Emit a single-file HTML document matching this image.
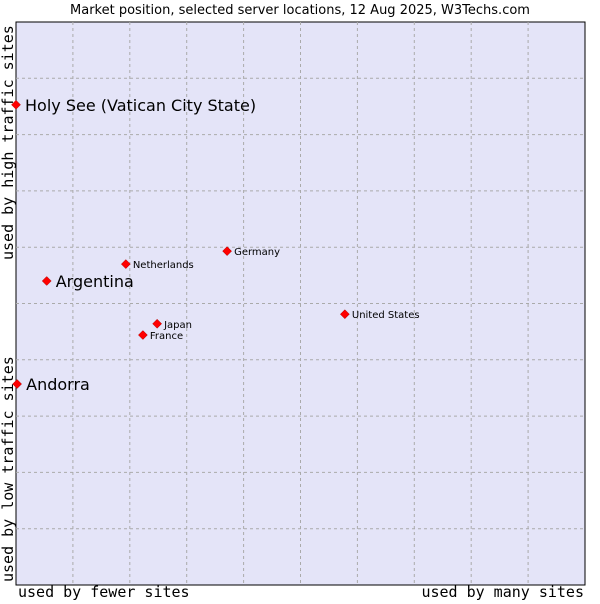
<!DOCTYPE html>
<html><head><meta charset="utf-8"><style>
body{margin:0;background:#fff;font-family:"DejaVu Sans","Liberation Sans",sans-serif;}
svg text{font-family:"DejaVu Sans","Liberation Sans",sans-serif;}
svg text.mono{font-family:"DejaVu Sans Mono","Liberation Mono",monospace;}
</style></head><body>
<svg id="chart" width="600" height="600" xmlns="http://www.w3.org/2000/svg">
<text x="300" y="14" font-size="13" text-anchor="middle" fill="#000">Market position, selected server locations, 12 Aug 2025, W3Techs.com</text>
<rect x="16" y="22" width="569" height="563" fill="#e4e4f8" stroke="#000" stroke-width="1"/>
<g id="grid"></g>
<g id="points"></g>
<text class="mono" x="18" y="597" font-size="15">used by fewer sites</text>
<text class="mono" x="584" y="597" font-size="15" text-anchor="end">used by many sites</text>
<text class="mono" transform="translate(13,260) rotate(-90)" font-size="15">used by high traffic sites</text>
<text class="mono" transform="translate(13,582) rotate(-90)" font-size="15">used by low traffic sites</text>
</svg>
<script>
const names=["Holy See (Vatican City State)","Argentina","Andorra","Netherlands","Germany","United States","Japan","France"];
const xVals=[0,5.4,0.2,19.3,37.1,57.8,24.8,22.3];
const yVals=[85.3,54.0,35.7,57.0,59.3,48.1,46.4,44.4];
const big=[true,true,true,false,false,false,false,false];
const L=16,T=22,W=569,H=563;
const sx=v=>L+v/100*W, sy=v=>T+H-v/100*H;
const ns="http://www.w3.org/2000/svg";
const g=document.getElementById('grid'),p=document.getElementById('points');
for(let i=1;i<10;i++){
 const a=document.createElementNS(ns,'line');
 
 
 a.setAttribute('x1',sx(i*10));a.setAttribute('x2',sx(i*10));a.setAttribute('y1',T);a.setAttribute('y2',T+H);
 a.setAttribute('stroke','#aaa');a.setAttribute('stroke-dasharray','3,3');g.appendChild(a);
 const b=document.createElementNS(ns,'line');
 
 
 b.setAttribute('y1',sy(i*10));b.setAttribute('y2',sy(i*10));b.setAttribute('x1',L);b.setAttribute('x2',L+W);
 b.setAttribute('stroke','#aaa');b.setAttribute('stroke-dasharray','3,3');g.appendChild(b);
}
names.forEach((n,i)=>{
 const x=sx(xVals[i]),y=sy(yVals[i]);
 const d=document.createElementNS(ns,'path');
 
 
 d.setAttribute('d',`M${x} ${y-4.5}L${x+4.5} ${y}L${x} ${y+4.5}L${x-4.5} ${y}Z`);
 d.setAttribute('fill','#f00');d.setAttribute('stroke','#a00');d.setAttribute('stroke-width','0.5');p.appendChild(d);
 const t=document.createElementNS(ns,'text');
 
 
 t.setAttribute('x',x+(big[i]?9:7));t.setAttribute('y',y+(big[i]?6:4));
 t.setAttribute('font-size',big[i]?'16':'10');t.textContent=n;p.appendChild(t);
});
</script>
</body></html>
